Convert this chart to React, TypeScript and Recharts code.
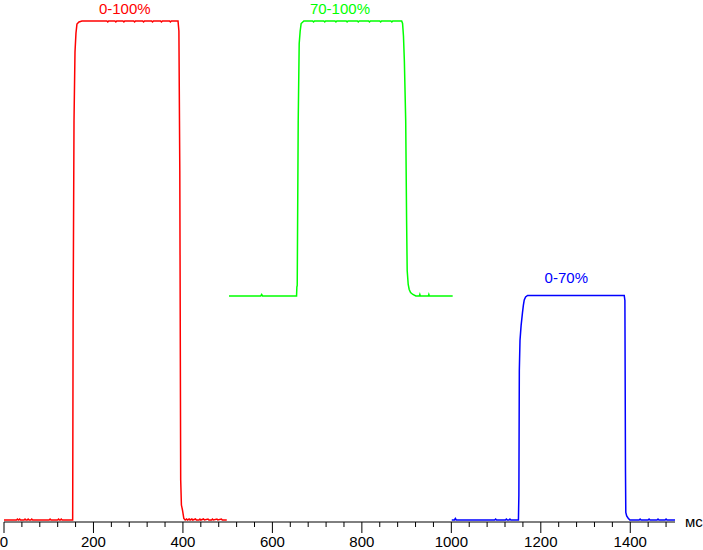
import { LineChart, Line, XAxis, YAxis, ReferenceDot } from "recharts";

// step-response traces, time in ms / brightness in %
const redTrace: [number, number][] = [
  [0, 0], [28, 0], [30, 0.2], [32, 0], [33, 0], [35, 0.2], [37, 0], [45, 0], [47, 0.2], [49, 0],
  [52, 0], [54, 0.2], [56, 0], [60, 0], [62, 0.2], [64, 0], [101, 0], [103, 0.2], [105, 0],
  [120, 0], [122, 0.2], [124, 0], [126, 0], [128, 0.2], [130, 0],
  [153.5, 0], [154.5, 40], [156.5, 80], [158.7, 93.8], [160.9, 97.6], [163.1, 99.4], [167.6, 99.8], [174.3, 100],
  [230, 100], [232, 99.8], [234, 100], [248, 100], [250, 99.8], [252, 100], [266, 100], [268, 99.8], [270, 100],
  [290, 100], [292, 99.8], [294, 100], [310, 100], [312, 99.8], [314, 100], [330, 100], [332, 99.8], [334, 100],
  [350, 100], [352, 99.8], [354, 100], [370, 100], [372, 99.8], [374, 100],
  [389, 100], [391, 98], [393, 70], [395, 8], [396.6, 3], [399, 2], [402, 0.3], [405, 0],
  [408, 0.2], [410, 0], [414, 0.2], [416, 0], [420, 0.2], [422, 0], [428, 0.2], [430, 0],
  [436, 0], [438, 0.2], [440, 0], [446, 0.2], [448, 0], [456, 0.2], [458, 0], [464, 0],
  [466, 0.2], [468, 0], [476, 0.2], [478, 0], [486, 0.2], [488, 0], [498, 0],
];

const greenTrace: [number, number][] = [
  [503, 44.9], [574, 44.9], [576, 45.2], [578, 44.9], [654, 44.9], [654.7, 46.7], [655.5, 47],
  [657.7, 80], [659.9, 95.5], [662.1, 98], [664.3, 99.5], [670.4, 100],
  [690, 100], [692, 99.8], [694, 100], [715, 100], [717, 99.8], [719, 100], [740, 100], [742, 99.8], [744, 100],
  [765, 100], [767, 99.8], [769, 100], [790, 100], [792, 99.8], [794, 100], [815, 100], [817, 99.8], [819, 100],
  [840, 100], [842, 99.8], [844, 100], [865, 100], [867, 99.8], [869, 100],
  [889, 100], [891, 99.5], [893, 97], [895, 92], [898, 80], [900, 60], [901.3, 50], [903.6, 47.2],
  [905.8, 46.2], [908.9, 45.6], [914, 45.2], [920.7, 44.9], [928.5, 44.9], [929.6, 45.2], [930.7, 44.9],
  [948.6, 44.9], [949.7, 45.2], [950.8, 44.9], [1003, 44.9],
];

const blueTrace: [number, number][] = [
  [1001, 0], [1007, 0], [1009, 0.3], [1011, 0], [1097, 0], [1099, 0.2], [1101, 0], [1121, 0],
  [1123, 0.2], [1125, 0], [1129, 0], [1131, 0.2], [1133, 0],
  [1150, 0], [1151, 5], [1152, 30], [1153.5, 36], [1156, 39], [1159, 41.5], [1161, 43], [1163, 44.1],
  [1166, 44.7], [1170.5, 45], [1386.5, 45], [1388, 44], [1389.3, 10], [1390, 1.5], [1392, 0.8],
  [1395, 0.4], [1399, 0], [1420, 0], [1422, 0.2], [1424, 0], [1440, 0], [1442, 0.2], [1444, 0],
  [1460, 0], [1462, 0.2], [1464, 0], [1478, 0], [1480, 0.2], [1482, 0], [1500, 0],
];

const axisTicks = [
  0, 40, 80, 120, 160, 200, 240, 280, 320, 360, 400, 440, 480, 520, 560, 600, 640, 680, 720,
  760, 800, 840, 880, 920, 960, 1000, 1040, 1080, 1120, 1160, 1200, 1240, 1280, 1320, 1360,
  1400, 1440, 1480,
];
const labeledTicks = [0, 200, 400, 600, 800, 1000, 1200, 1400];

const traceLabels = [
  { text: "0-100%", t: 270, v: 100, dy: 7, color: "#ff0000" },
  { text: "70-100%", t: 751, v: 100, dy: 7, color: "#00ff00" },
  { text: "0-70%", t: 1257, v: 45, dy: 12.5, color: "#0000ff" },
];

const FONT = "'Liberation Sans', Arial, sans-serif";

const toRows = (trace: [number, number][]) => trace.map(([t, v]) => ({ t, v }));

function AxisTick(props: any) {
  const { x, y, payload } = props;
  const major = labeledTicks.includes(payload.value);
  return (
    <g>
      <line x1={x} y1={y} x2={x} y2={y + (major ? 11 : 5)} stroke="#000" strokeWidth={1} />
      {major && (
        <text x={x} y={y + 25} textAnchor="middle" fontFamily={FONT} fontSize={15} fill="#000">
          {payload.value}
        </text>
      )}
    </g>
  );
}

export default function App() {
  return (
    <div style={{ position: "absolute", left: 0, top: 0, background: "#fff" }}>
      <LineChart width={703} height={550} margin={{ top: 21, right: 28, bottom: 0, left: 4 }}>
        <XAxis
          dataKey="t"
          type="number"
          domain={[0, 1500]}
          ticks={axisTicks}
          interval={0}
          tickSize={0}
          tickMargin={0}
          tickLine={false}
          height={28}
          stroke="#000"
          tick={<AxisTick />}
          allowDataOverflow
          label={{
            content: (p: any) => (
              <text
                x={p.viewBox.x + p.viewBox.width + 10}
                y={p.viewBox.y + 5}
                fontFamily={FONT}
                fontSize={15}
                fill="#000"
              >
                мс
              </text>
            ),
          }}
        />
        <YAxis hide type="number" domain={[-0.4, 100]} />
        <Line data={toRows(redTrace)} dataKey="v" type="linear" stroke="#ff0000" strokeWidth={1.5} dot={false} isAnimationActive={false} />
        <Line data={toRows(greenTrace)} dataKey="v" type="linear" stroke="#00ff00" strokeWidth={1.5} dot={false} isAnimationActive={false} />
        <Line data={toRows(blueTrace)} dataKey="v" type="linear" stroke="#0000ff" strokeWidth={1.5} dot={false} isAnimationActive={false} />
        {traceLabels.map((l) => (
          <ReferenceDot
            key={l.text}
            x={l.t}
            y={l.v}
            r={0}
            fill="none"
            stroke="none"
            ifOverflow="visible"
            label={{
              content: (p: any) => (
                <text
                  x={p.viewBox.x + p.viewBox.width / 2}
                  y={p.viewBox.y - l.dy}
                  textAnchor="middle"
                  fontFamily={FONT}
                  fontSize={15}
                  fill={l.color}
                >
                  {l.text}
                </text>
              ),
            }}
          />
        ))}
      </LineChart>
    </div>
  );
}
